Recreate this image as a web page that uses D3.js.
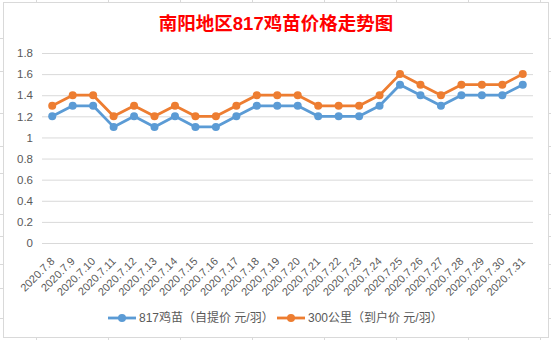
<!DOCTYPE html>
<html>
<head>
<meta charset="utf-8">
<script src="https://cdn.jsdelivr.net/npm/d3@7/dist/d3.min.js"></script>
<style>
  html, body { margin: 0; padding: 0; background: #fff; }
  svg { display: block; }
  text { font-family: "Liberation Sans", "Noto Sans CJK SC", sans-serif; }
</style>
</head>
<body>
<svg id="chart" width="551" height="340"></svg>
<script>
const title = "南阳地区817鸡苗价格走势图";
const dates = ["2020.7.8","2020.7.9","2020.7.10","2020.7.11","2020.7.12","2020.7.13","2020.7.14","2020.7.15","2020.7.16","2020.7.17","2020.7.18","2020.7.19","2020.7.20","2020.7.21","2020.7.22","2020.7.23","2020.7.24","2020.7.25","2020.7.26","2020.7.27","2020.7.28","2020.7.29","2020.7.30","2020.7.31"];
const seriesNames = ["817鸡苗（自提价 元/羽）", "300公里（到户价 元/羽）"];
const pickupPrice = [1.2,1.3,1.3,1.1,1.2,1.1,1.2,1.1,1.1,1.2,1.3,1.3,1.3,1.2,1.2,1.2,1.3,1.5,1.4,1.3,1.4,1.4,1.4,1.5];
const deliveredPrice = [1.3,1.4,1.4,1.2,1.3,1.2,1.3,1.2,1.2,1.3,1.4,1.4,1.4,1.3,1.3,1.3,1.4,1.6,1.5,1.4,1.5,1.5,1.5,1.6];
const yTicks = [0,0.2,0.4,0.6,0.8,1,1.2,1.4,1.6,1.8];
const colors = ["#5b9bd5", "#ed7d31"];

const svg = d3.select("#chart");
const W = 551, H = 340;

// spreadsheet background grid stubs
const colX = [36,108,180,252,324,396,468,540];
const rowY = [38,71,113,146,173,214,236,264,288,318];
const bg = svg.append("g").attr("stroke", "#d9d9d9").attr("stroke-width", 1);
colX.forEach(x => {
  bg.append("line").attr("x1", x + 0.5).attr("x2", x + 0.5).attr("y1", 0).attr("y2", 3);
  bg.append("line").attr("x1", x + 0.5).attr("x2", x + 0.5).attr("y1", 337).attr("y2", H);
});
rowY.forEach(y => {
  bg.append("line").attr("x1", 0).attr("x2", 3).attr("y1", y + 0.5).attr("y2", y + 0.5);
  bg.append("line").attr("x1", 548).attr("x2", W).attr("y1", y + 0.5).attr("y2", y + 0.5);
});

// chart frame
svg.append("rect").attr("x", 3.5).attr("y", 2.5).attr("width", 545).attr("height", 335)
  .attr("fill", "#fff").attr("stroke", "#d9d9d9").attr("stroke-width", 1);

// title
svg.append("text").attr("x", 276).attr("y", 30).attr("text-anchor", "middle")
  .attr("fill", "#ff0000").attr("font-weight", "bold").attr("font-size", "18.5px")
  .text(title);

const x = d3.scaleBand().domain(dates).range([42, 533]);
const y = d3.scaleLinear().domain([0, 1.8]).range([243, 53]);

// gridlines
const yAxis = d3.axisLeft(y).tickValues(yTicks).tickSize(-(533 - 42)).tickPadding(9)
  .tickFormat(d => d3.format("~g")(d));
const gy = svg.append("g").attr("transform", "translate(42,0)").call(yAxis);
gy.select(".domain").remove();
gy.selectAll(".tick line").attr("stroke", "#d9d9d9").attr("stroke-width", 1);
gy.selectAll(".tick text").attr("fill", "#595959").attr("font-size", "11.5px");

// x axis labels
const xAxis = d3.axisBottom(x).tickSize(0).tickPadding(0);
const gx = svg.append("g").attr("transform", "translate(0,243)").call(xAxis);
gx.select(".domain").remove();
gx.selectAll(".tick text")
  .attr("fill", "#595959").attr("font-size", "11px")
  .attr("text-anchor", "end").attr("dy", null).attr("y", 0)
  .attr("transform", "translate(3,19) rotate(-45)");

// series
const all = [pickupPrice, deliveredPrice];
const line = d3.line().x((d, i) => x(dates[i]) + x.bandwidth() / 2).y(d => y(d));
all.forEach((vals, si) => {
  svg.append("path").datum(vals).attr("d", line).attr("fill", "none")
    .attr("stroke", colors[si]).attr("stroke-width", 2.8).attr("stroke-linejoin", "round");
  svg.append("g").selectAll("circle").data(vals).join("circle")
    .attr("cx", (d, i) => x(dates[i]) + x.bandwidth() / 2).attr("cy", d => y(d))
    .attr("r", 4).attr("fill", colors[si]);
});

// legend
const legendX = [108, 277];
const legend = svg.append("g");
seriesNames.forEach((name, i) => {
  const g = legend.append("g").attr("transform", `translate(${legendX[i]},318)`);
  g.append("line").attr("x1", 0).attr("x2", 28).attr("y1", 0).attr("y2", 0)
    .attr("stroke", colors[i]).attr("stroke-width", 2.8);
  g.append("circle").attr("cx", 14).attr("cy", 0).attr("r", 4).attr("fill", colors[i]);
  g.append("text").attr("x", 31).attr("y", 0).attr("dy", "0.35em")
    .attr("fill", "#595959").attr("font-size", "12px").text(name);
});
</script>
</body>
</html>
